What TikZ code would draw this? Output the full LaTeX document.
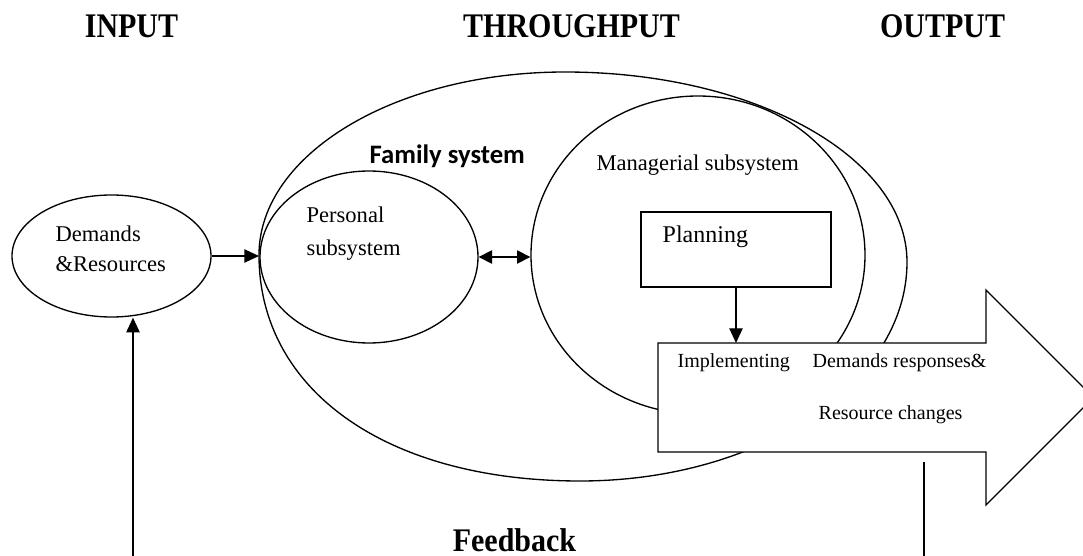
\documentclass[tikz,border=0pt]{standalone}
\usepackage{fontspec}
\usepackage{graphicx}
\setmainfont{Liberation Serif}
\newfontfamily\calibfont{Carlito}
\usetikzlibrary{arrows.meta,shapes.geometric}
\begin{document}
\begin{tikzpicture}[x=0.75pt,y=-0.75pt,line width=1pt,
  arr/.style={-{Triangle[length=11pt,width=10pt]}},
  darr/.style={{Triangle[length=10pt,width=10pt]}-{Triangle[length=10pt,width=10pt]}},
  txt/.style={inner sep=0pt,anchor=base west,font=\fontsize{16.9}{20}\selectfont},
  smalltxt/.style={inner sep=0pt,anchor=base west,font=\fontsize{15}{18}\selectfont},
  titletxt/.style={inner sep=0pt,anchor=base,font=\bfseries\fontsize{22.5}{26}\selectfont},
  oval/.style={draw,ellipse,inner sep=0pt}]
\useasboundingbox (0,0) rectangle (1083,556);
\clip (0,0) rectangle (1083,556);

% titles
\node[titletxt] (tin) at (131.5,38) {\scalebox{1}[1.15]{INPUT}};
\node[titletxt] (tthr) at (571.5,38) {\scalebox{1}[1.15]{THROUGHPUT}};
\node[titletxt] (tout) at (942.5,38) {\scalebox{1}[1.15]{OUTPUT}};
\node[titletxt] (tfb) at (514.5,551) {\scalebox{1}[1.1]{Feedback}};

% family system outline
\draw (259,255) .. controls (259,153.9) and (396,72) .. (565,72)
      .. controls (754,72) and (907,157) .. (907,262)
      .. controls (907,383) and (760.6,481) .. (580,481)
      .. controls (387,481) and (259,390.6) .. (259,255) -- cycle;
\coordinate (famW) at (259,258);

% ellipses
\node[oval,minimum width=149.25pt,minimum height=91.5pt] (dem) at (111.5,256) {};
\node[oval,minimum width=163.5pt,minimum height=129pt] (pers) at (369,257) {};
\node[oval,minimum width=250.5pt,minimum height=238.5pt] (man) at (698,255) {};

% planning box
\node[draw,inner sep=0pt,minimum width=142.5pt,minimum height=56.25pt] (plan) at (736,249.5) {};

% big output arrow
\coordinate (aTL) at (658,343);
\coordinate (aTR) at (986,343);
\coordinate (aHT) at (986,290);
\coordinate (aTip) at (1093.5,397.5);
\coordinate (aHB) at (986,505);
\coordinate (aBR) at (986,452);
\coordinate (aBL) at (658,452);
\draw[fill=white] (aTL) -- (aTR) -- (aHT) -- (aTip) -- (aHB) -- (aBR) -- (aBL) -- cycle;

% connectors
\draw[arr] (dem.east) -- (dem.east -| famW);
\draw[darr] (pers.east) -- (pers.east -| man.west);
\draw[arr] (plan.south) -- (plan.south |- aTL);
\coordinate (fbL) at (133,556);
\draw[arr] (fbL) -- (dem.south -| fbL);
\coordinate (fbR1) at (924,462);
\coordinate (fbR2) at (924,556);
\draw (fbR1) -- (fbR2);

% texts
\node[txt] (tdem1) at (55,242) {Demands};
\node[txt] (tdem2) at (55,272) {\&Resources};
\node[txt] (tper1) at (306,223) {Personal};
\node[txt] (tper2) at (306,256) {subsystem};
\node[inner sep=0pt,anchor=base west,font=\calibfont\bfseries\fontsize{20}{24}\selectfont] (tfam) at (369,164) {Family system};
\node[txt] (tman) at (596,171) {Managerial subsystem};
\node[inner sep=0pt,anchor=base west,font=\fontsize{18}{22}\selectfont] (tplan) at (662,243) {Planning};
\node[smalltxt] (timp) at (677,368) {Implementing};
\node[smalltxt] (tdr) at (812,368) {Demands responses\&};
\node[smalltxt] (trc) at (818,419) {Resource changes};
\end{tikzpicture}
\end{document}
